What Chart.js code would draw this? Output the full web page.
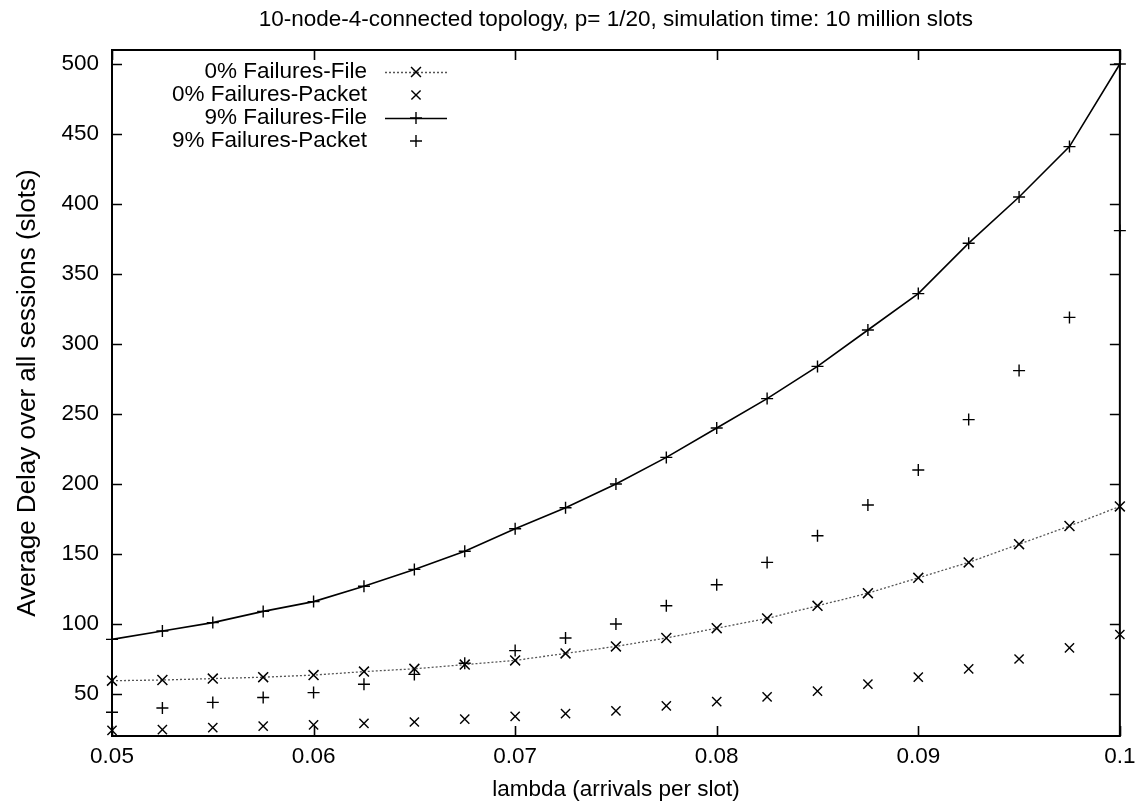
<!DOCTYPE html>
<html>
<head>
<meta charset="utf-8">
<title>Average delay vs lambda</title>
<script src="https://cdn.jsdelivr.net/npm/chart.js@4.4.1/dist/chart.umd.min.js"></script>
<style>
  html, body { margin: 0; padding: 0; background: #fff; }
  canvas { display: block; }
</style>
</head>
<body>
<canvas id="chart" width="1143" height="807"></canvas>
<script>
// Arrival rates (arrivals per slot)
const lambdas = [0.05, 0.0525, 0.055, 0.0575, 0.06, 0.0625, 0.065, 0.0675, 0.07, 0.0725,
                 0.075, 0.0775, 0.08, 0.0825, 0.085, 0.0875, 0.09, 0.0925, 0.095, 0.0975, 0.1];

// Average delay over all sessions (slots)
const fileNoFail   = [59.5, 60, 61, 62, 63.5, 66, 68, 71, 74, 79, 84, 90, 97, 104, 113, 122, 133, 144, 157, 170, 184];
const packetNoFail = [24, 24.5, 26, 27, 28, 29, 30, 32, 34, 36, 38, 41.5, 44.5, 48, 52, 57, 62, 68, 75, 83, 92.5];
const fileFail     = [89, 95, 101, 109, 116, 127, 139, 152, 168, 183, 200, 219, 240, 261, 284, 310, 336, 372, 405, 441, 500];
const packetFail   = [37, 40, 44, 47.5, 51, 57, 64, 72, 81, 90, 100, 113, 128, 144, 163, 185, 210, 246, 281, 319, 381];

const seriesLabels = ['0% Failures-File', '0% Failures-Packet', '9% Failures-File', '9% Failures-Packet'];

const xTickValues = [0.05, 0.06, 0.07, 0.08, 0.09, 0.1];
const xTickLabels = ['0.05', '0.06', '0.07', '0.08', '0.09', '0.1'];
const yTickValues = [50, 100, 150, 200, 250, 300, 350, 400, 450, 500];
const yTickLabels = ['50', '100', '150', '200', '250', '300', '350', '400', '450', '500'];

const titleText = '10-node-4-connected topology, p= 1/20, simulation time: 10 million slots';
const xTitle = 'lambda (arrivals per slot)';
const yTitle = 'Average Delay over all sessions (slots)';

const FONT = "'Liberation Sans', Arial, Helvetica, sans-serif";
const FS = 22.5;

const toPoints = (ys) => lambdas.map((x, i) => ({ x: x, y: ys[i] }));

// Boxed frame with inward ticks on all four sides, mirrored like a classic plot
const framePlugin = {
  id: 'frame',
  afterDatasetsDraw(chart) {
    const { ctx, chartArea: a, scales: { x, y } } = chart;
    const len = 10;
    ctx.save();
    ctx.strokeStyle = '#000';
    ctx.lineWidth = 1.6;
    ctx.beginPath();
    xTickValues.forEach(v => {
      const px = Math.round(x.getPixelForValue(v)) + 0.5;
      ctx.moveTo(px, a.bottom); ctx.lineTo(px, a.bottom - len);
      ctx.moveTo(px, a.top); ctx.lineTo(px, a.top + len);
    });
    yTickValues.forEach(v => {
      const py = Math.round(y.getPixelForValue(v)) + 0.5;
      ctx.moveTo(a.left, py); ctx.lineTo(a.left + len, py);
      ctx.moveTo(a.right, py); ctx.lineTo(a.right - len, py);
    });
    ctx.stroke();
    ctx.lineWidth = 2;
    ctx.strokeRect(a.left, a.top, a.right - a.left, a.bottom - a.top);
    ctx.restore();
  }
};

// Key in the upper-left corner: label right-aligned, then the line sample and marker
const keyPlugin = {
  id: 'key',
  afterDraw(chart) {
    const { ctx } = chart;
    const textRight = 367, lineL = 385, lineR = 447, markX = 416;
    ctx.save();
    ctx.font = `${FS}px ${FONT}`;
    ctx.textAlign = 'right';
    ctx.textBaseline = 'middle';
    chart.data.datasets.forEach((ds, i) => {
      const yy = 72 + i * 23;
      ctx.fillStyle = '#000';
      ctx.fillText(ds.label, textRight, yy);
      if (ds.showLine) {
        ctx.save();
        ctx.strokeStyle = ds.borderColor;
        ctx.lineWidth = ds.borderWidth;
        ctx.setLineDash(ds.borderDash || []);
        ctx.beginPath();
        ctx.moveTo(lineL, yy + 0.5); ctx.lineTo(lineR, yy + 0.5);
        ctx.stroke();
        ctx.restore();
      }
      ctx.save();
      ctx.strokeStyle = ds.pointBorderColor;
      ctx.fillStyle = ds.pointBorderColor;
      ctx.lineWidth = ds.pointBorderWidth;
      Chart.helpers.drawPoint(ctx, {
        pointStyle: ds.pointStyle,
        radius: ds.pointRadius,
        borderWidth: ds.pointBorderWidth,
        rotation: 0
      }, markX, yy);
      ctx.restore();
    });
    ctx.restore();
  }
};

const whiteBg = {
  id: 'whiteBg',
  beforeDraw(chart) {
    const { ctx, width, height } = chart;
    ctx.save();
    ctx.fillStyle = '#fff';
    ctx.fillRect(0, 0, width, height);
    ctx.restore();
  }
};

new Chart(document.getElementById('chart'), {
  type: 'line',
  data: {
    datasets: [
      {
        label: seriesLabels[0],
        data: toPoints(fileNoFail),
        showLine: true,
        borderColor: '#555',
        borderWidth: 1.3,
        borderDash: [2, 2],
        pointStyle: 'crossRot',
        pointRadius: 7,
        pointBorderColor: '#000',
        pointBorderWidth: 1.5,
        clip: false
      },
      {
        label: seriesLabels[1],
        data: toPoints(packetNoFail),
        showLine: false,
        pointStyle: 'crossRot',
        pointRadius: 6.5,
        pointBorderColor: '#000',
        pointBorderWidth: 1.4,
        clip: false
      },
      {
        label: seriesLabels[2],
        data: toPoints(fileFail),
        showLine: true,
        borderColor: '#000',
        borderWidth: 1.6,
        pointStyle: 'cross',
        pointRadius: 6,
        pointBorderColor: '#000',
        pointBorderWidth: 1.4,
        clip: false
      },
      {
        label: seriesLabels[3],
        data: toPoints(packetFail),
        showLine: false,
        pointStyle: 'cross',
        pointRadius: 6,
        pointBorderColor: '#000',
        pointBorderWidth: 1.4,
        clip: false
      }
    ]
  },
  options: {
    responsive: false,
    animation: false,
    layout: { padding: { left: 0, right: 23, top: 0, bottom: 0 } },
    elements: { line: { tension: 0, fill: false } },
    plugins: {
      legend: { display: false },
      tooltip: { enabled: false },
      title: {
        display: true,
        fullSize: false,
        text: titleText,
        color: '#000',
        font: { family: FONT, size: FS, weight: 'normal' },
        padding: { top: 6, bottom: 17 }
      }
    },
    scales: {
      x: {
        type: 'linear',
        min: 0.05,
        max: 0.1,
        afterBuildTicks: (s) => { s.ticks = xTickValues.map(v => ({ value: v })); },
        afterFit: (s) => { s.height = 71; },
        grid: { display: false, drawTicks: false },
        border: { display: false },
        ticks: {
          color: '#000',
          font: { family: FONT, size: FS },
          padding: 7.5,
          maxRotation: 0,
          autoSkip: false,
          callback: (v, i) => xTickLabels[i]
        },
        title: {
          display: true,
          text: xTitle,
          color: '#000',
          font: { family: FONT, size: FS },
          padding: { top: 0, bottom: 3.5 }
        }
      },
      y: {
        type: 'linear',
        min: 20,
        max: 510,
        afterBuildTicks: (s) => { s.ticks = yTickValues.map(v => ({ value: v })); },
        afterFit: (s) => { s.width = 112; },
        grid: { display: false, drawTicks: false },
        border: { display: false },
        ticks: {
          color: '#000',
          font: { family: FONT, size: FS },
          padding: 13,
          autoSkip: false,
          callback: (v, i) => yTickLabels[i]
        },
        title: {
          display: true,
          text: yTitle,
          color: '#000',
          font: { family: FONT, size: 26 },
          padding: { top: 12, bottom: 0 }
        }
      }
    }
  },
  plugins: [whiteBg, framePlugin, keyPlugin]
});
</script>
</body>
</html>
